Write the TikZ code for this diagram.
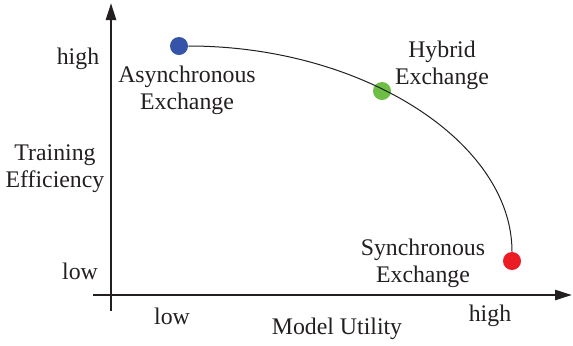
\documentclass[tikz,border=0pt]{standalone}
\usepackage{fontspec}
\setmainfont{Liberation Serif}
\usetikzlibrary{arrows.meta}
\definecolor{dotblue}{HTML}{3553A8}
\definecolor{dotgreen}{HTML}{6DBE45}
\definecolor{dotred}{HTML}{EC1C24}
\definecolor{ink}{HTML}{231F20}
\begin{document}
\begin{tikzpicture}[x=0.5pt,y=0.5pt,
  axis/.style={line width=1.3pt,draw=ink},
  lbl/.style={font=\fontsize{11.9}{13.5}\selectfont,text=ink,align=center,inner sep=0pt},
  dot/.style={circle,inner sep=0pt,minimum size=9pt}]
\useasboundingbox (0,0) rectangle (573,345);
% axes
\coordinate (ybot) at (111,34);
\coordinate (ytop) at (111,342);
\coordinate (xleft) at (93,50);
\coordinate (xright) at (572,50);
\draw[axis,-{Triangle[length=8.5pt,width=5pt]}] (ybot) -- (ytop);
\draw[axis,-{Triangle[length=8.5pt,width=5pt]}] (xleft) -- (xright);
% dots
\node[dot,fill=dotblue] (blue) at (179,299) {};
\node[dot,fill=dotgreen] (green) at (382,254) {};
\node[dot,fill=dotred] (red) at (512,84) {};
\draw[line width=0.5pt,ink] (blue) .. controls +(184,0) and +(0,119) .. (red);
% labels
\node[lbl] (yhigh) at (78,286) {high};
\node[lbl] (ylow) at (80,74) {low};
\node[lbl] (ylab) at (55,176) {Training\\Efficiency};
\node[lbl] (xlow) at (172,29) {low};
\node[lbl] (xhigh) at (490,29) {high};
\node[lbl] (xlab) at (337,16) {Model Utility};
\node[lbl] (async) at (187,255) {Asynchronous\\Exchange};
\node[lbl] (hybrid) at (442,280) {Hybrid\\Exchange};
\node[lbl] (sync) at (423,82) {Synchronous\\Exchange};
\end{tikzpicture}
\end{document}
